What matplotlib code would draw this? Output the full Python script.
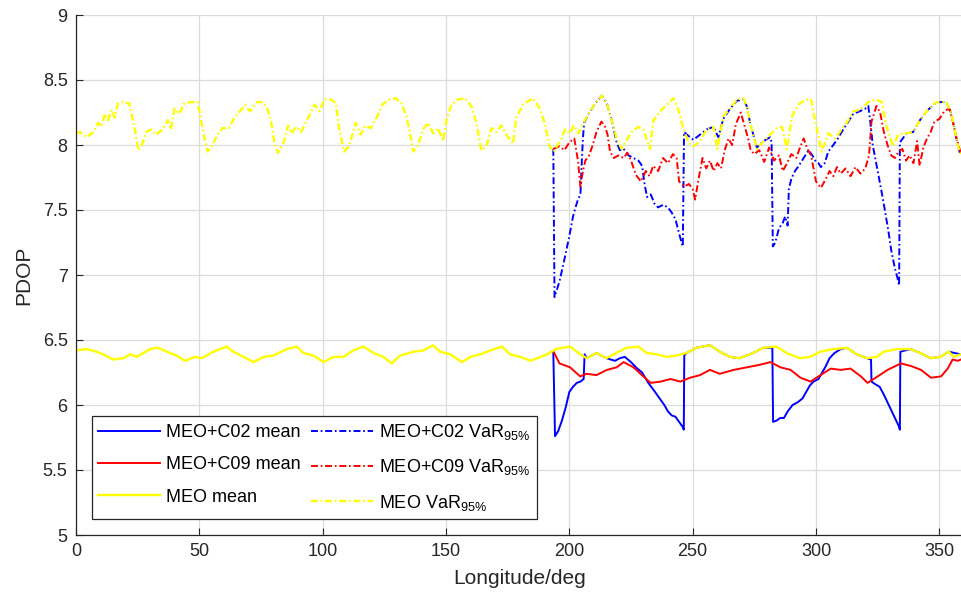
import matplotlib
matplotlib.use("Agg")
import matplotlib.pyplot as plt
import numpy as np

### values
# MEO only, VaR 95%
meo_var_lon = [0, 1.6, 4.3, 7, 9, 10.3, 11.7, 13, 14.4, 15.7, 17, 19, 21.6, 22.5, 23.9, 25.2,
               26.5, 28.5, 30.5, 32.5, 35.2, 37.2, 38.5, 39.9, 41.9, 43.9, 46.6, 49.3, 50.7, 52, 53.4,
               55.4, 57.4, 59.4, 62, 64.5, 66.5, 68.5, 70.5, 73.3, 75.7, 77.8, 79.2, 80.5, 81.9,
               83.9, 86, 87.3, 89.3, 91.3, 93.3, 94.7, 96.7, 98.7, 100.7, 103.4, 105.4, 106.7, 108.7,
               110.7, 113.4, 115.4, 117.4, 119.5, 122.1, 124.2, 126.9, 129.5, 132, 134, 135.4, 136.7,
               138.7, 140.7, 142.8, 144.8, 146.8, 148.8, 150.2, 152.2, 154.9, 157.6, 160.3, 162.3, 164.3,
               166.4, 168.4, 170.4, 172.5, 174.5, 177.2, 178.5, 181.2, 185.3, 188, 190, 192, 193.6,
               196.3, 198.3, 200.3, 201.7, 203.7, 205.7, 207.8, 210.5, 213.2, 215.2, 217.2, 219.2, 221.2,
               223.3, 225.3, 228, 230, 232.7, 234.1, 236.8, 239.5, 242.2, 244.2, 246.3, 248.3,
               250.3, 253, 255.7, 258.4, 260, 260.8, 262.4, 265.2, 267.9, 270.6, 271.9, 273.3, 276,
               278.7, 281.4, 284.1, 286.2, 288.2, 290.2, 292.9, 295.6, 298, 299.6, 302.3,
               305, 307.7, 310.4, 313.1, 315.1, 317.8, 321.2, 324.6, 326.6, 328.6, 331.3,
               333.3, 336.7, 339.4, 342.1, 345.4, 348.8, 352.9, 354.9, 356.9, 358.3, 360]
meo_var = [8.09, 8.10, 8.06, 8.10, 8.17, 8.14, 8.24, 8.19, 8.27, 8.21, 8.32, 8.33, 8.32, 8.24, 8.12, 7.96,
           7.99, 8.10, 8.12, 8.08, 8.12, 8.19, 8.12, 8.28, 8.24, 8.32, 8.33, 8.33, 8.19, 8.06, 7.95,
           8.00, 8.08, 8.13, 8.13, 8.22, 8.26, 8.31, 8.26, 8.33, 8.33, 8.27, 8.17, 8.01, 7.94,
           8.00, 8.15, 8.09, 8.14, 8.10, 8.18, 8.23, 8.31, 8.26, 8.35, 8.35, 8.32, 8.12, 7.95,
           7.99, 8.17, 8.08, 8.15, 8.13, 8.22, 8.31, 8.35, 8.36, 8.32, 8.22, 8.09, 7.95,
           8.00, 8.12, 8.17, 8.09, 8.13, 8.03, 8.19, 8.31, 8.35, 8.36, 8.30, 8.17, 7.96,
           7.99, 8.13, 8.10, 8.15, 8.08, 8.01, 8.21, 8.31, 8.36, 8.28, 8.17, 7.99, 7.95,
           8.03, 8.12, 8.09, 8.15, 8.09, 8.17, 8.24, 8.32, 8.38, 8.32, 8.19, 8.05, 7.97,
           8.04, 8.10, 8.14, 8.12, 7.97, 8.19, 8.26, 8.31, 8.36, 8.27, 8.12, 8.02,
           7.99, 8.03, 8.12, 8.14, 7.97, 8.05, 8.22, 8.28, 8.35, 8.36, 8.30, 8.17, 7.97,
           8.03, 8.08, 8.13, 8.14, 7.97, 8.22, 8.31, 8.35, 8.35, 8.19, 7.95,
           8.09, 8.05, 8.12, 8.19, 8.26, 8.27, 8.33, 8.35, 8.33, 8.14, 7.99,
           8.08, 8.09, 8.10, 8.19, 8.27, 8.33, 8.33, 8.24, 8.05, 7.94, 7.93]

# MEO only, mean
meo_mean_lon = [0, 4.3, 8.3, 11, 15, 19.2, 22, 24.6, 30, 33.4, 36.8, 40.8, 44.2, 48.2, 51, 55.7,
                61, 63.8, 67.9, 72, 76, 80, 85.5, 89.5, 92.2, 96.3, 100.3, 104.4, 108.4, 112.5,
                116.5, 120.6, 124.6, 128, 131.4, 136.8, 140.9, 144.7, 147.6, 151.7, 156.5, 159.9,
                164, 168, 172.7, 176, 180.2, 184.3, 188.3, 191, 194.4, 200.3, 203.7, 207, 211,
                215, 219, 223.2, 228, 231.3, 235.4, 239.4, 243.5, 247.5, 251.5, 257, 261, 265,
                269, 274.5, 278.5, 284, 288, 293.5, 297.6, 301.7, 307, 312.5, 316.5, 320.6,
                324.7, 327.4, 332.8, 338.3, 342.3, 346.4, 350.4, 353.8, 355.9, 358.6, 360]
meo_mean = [6.42, 6.43, 6.41, 6.39, 6.35, 6.36, 6.39, 6.37, 6.43, 6.44, 6.41, 6.38, 6.34, 6.37, 6.36, 6.41,
            6.45, 6.41, 6.37, 6.33, 6.37, 6.38, 6.43, 6.45, 6.40, 6.38, 6.33, 6.37, 6.37, 6.42,
            6.45, 6.40, 6.37, 6.32, 6.38, 6.41, 6.42, 6.46, 6.41, 6.39, 6.33, 6.37,
            6.39, 6.42, 6.45, 6.39, 6.37, 6.34, 6.37, 6.39, 6.43, 6.45, 6.40, 6.36, 6.40,
            6.36, 6.40, 6.44, 6.45, 6.40, 6.39, 6.37, 6.38, 6.40, 6.44, 6.46, 6.41, 6.37,
            6.36, 6.40, 6.44, 6.45, 6.40, 6.36, 6.37, 6.41, 6.43, 6.44, 6.39, 6.36,
            6.37, 6.41, 6.43, 6.43, 6.40, 6.36, 6.37, 6.41, 6.37, 6.39, 6.39]

# MEO+C09, VaR 95%
c09_var_lon = [193.5, 196, 198, 200, 202, 203.5, 204.5, 205.5, 206.5, 208, 209.5, 211, 213, 214.5,
               215.5, 216.5, 218, 220, 222, 223.5, 225, 227, 229, 231, 232.5, 234, 236, 238, 240,
               242, 243.5, 244.5, 246.5, 248.5, 250, 251, 252.5, 254, 255.5, 257, 258.5, 260,
               261.5, 263, 264.5, 266, 267.5, 269.5, 271, 272.5, 273.5, 275, 277, 279, 281, 283,
               285, 286.5, 288, 290, 292, 293.5, 295, 296.5, 298, 300, 302, 304, 305.5, 307,
               308.5, 310, 312, 314, 316, 318, 320, 321.5, 322.5, 324.5, 326, 327.5, 329, 330.5,
               332, 333.5, 335, 336.5, 338, 339.5, 341, 342, 343.5, 345, 346.5, 348, 350, 352,
               354, 355.5, 357, 358.5, 360]
c09_var = [7.97, 7.99, 7.96, 8.02, 8.05, 7.88, 7.68, 7.80, 7.88, 7.92, 8.00, 8.10, 8.18, 8.14,
           8.08, 7.95, 7.90, 7.92, 7.90, 7.94, 7.88, 7.77, 7.72, 7.80, 7.76, 7.84, 7.80, 7.90, 7.86,
           7.93, 7.90, 7.72, 7.68, 7.70, 7.66, 7.58, 7.75, 7.90, 7.82, 7.88, 7.80, 7.86,
           7.82, 7.96, 8.05, 8.00, 8.16, 8.25, 8.15, 8.05, 7.96, 7.93, 7.96, 7.87, 7.98, 7.88,
           7.92, 7.80, 7.85, 7.93, 7.90, 7.98, 8.05, 7.97, 7.92, 7.72, 7.67, 7.74, 7.80, 7.76,
           7.83, 7.78, 7.82, 7.76, 7.83, 7.78, 7.82, 7.92, 8.18, 8.30, 8.25, 8.10, 8.00, 7.92,
           7.90, 7.95, 7.97, 7.88, 7.92, 7.86, 8.03, 7.84, 7.98, 8.05, 8.10, 8.18, 8.20, 8.26,
           8.28, 8.18, 8.05, 7.95, 7.93]

# MEO+C09, mean
c09_mean_lon = [193.6, 196, 200.3, 204.4, 207, 211, 215.2, 219.2, 222, 226, 230, 233, 237, 241,
                245, 249, 253, 257, 261, 266.6, 272, 277.4, 281.5, 285.6, 289.7, 293.7, 297.8,
                301.8, 306, 310, 314, 318.2, 320.9, 325, 329, 334.4, 338.5, 342.6, 346.6, 350.7,
                353.4, 355.4, 357.5, 360]
c09_mean = [6.41, 6.32, 6.29, 6.22, 6.24, 6.23, 6.27, 6.29, 6.33, 6.29, 6.22, 6.17, 6.18, 6.20,
            6.18, 6.21, 6.23, 6.27, 6.24, 6.27, 6.29, 6.31, 6.33, 6.29, 6.27, 6.21, 6.18,
            6.23, 6.28, 6.27, 6.28, 6.22, 6.17, 6.22, 6.27, 6.32, 6.30, 6.27, 6.21, 6.22,
            6.28, 6.35, 6.34, 6.36]

# MEO+C02, VaR 95%
c02_var_lon = [193.5, 194, 196, 198, 200, 201.5, 202.5, 203.5, 204.5, 205, 205.5, 206, 207.8, 210.5,
               213.2, 215.2, 217.2, 219.2, 220.5, 222, 224, 226, 228, 229.5, 230.5, 231.5, 233,
               234.5, 236, 238, 240, 241.5, 243, 244.5, 245.5, 246, 246.5, 247.6, 250.3, 253,
               255.7, 258.4, 260.4, 262.4, 265.2, 267.9, 270.6, 271.9, 273.3, 276, 278.7, 281.4,
               282, 282.5, 283.5, 285, 286.5, 287.5, 288.5, 289, 290, 291.5, 293, 295, 297,
               298.5, 300, 301, 302, 303.5, 305, 307, 308.5, 310.4, 313.1, 315.1, 317.8, 320,
               321.2, 322, 323, 325, 326.5, 328, 329.5, 330.5, 332, 333, 333.7, 334, 336.7,
               339.4, 342.1, 345.4, 348.8, 352.9, 354.9, 356.9, 358.3]
c02_var = [7.97, 6.83, 6.95, 7.12, 7.30, 7.45, 7.52, 7.58, 7.62, 7.85, 8.05, 8.17, 8.24, 8.32,
           8.38, 8.32, 8.19, 8.02, 7.96, 7.97, 7.92, 7.90, 7.88, 7.84, 7.70, 7.60, 7.62,
           7.55, 7.52, 7.54, 7.52, 7.48, 7.43, 7.32, 7.25, 7.22, 8.10, 8.08, 8.04, 8.08,
           8.12, 8.14, 8.06, 8.20, 8.28, 8.34, 8.35, 8.30, 8.17, 7.98, 8.03, 8.06,
           8.02, 7.22, 7.25, 7.36, 7.40, 7.45, 7.38, 7.66, 7.74, 7.80, 7.84, 7.90, 7.96,
           7.92, 7.87, 7.86, 7.83, 7.86, 7.95, 8.00, 8.04, 8.10, 8.18, 8.24, 8.26, 8.28,
           8.30, 8.18, 8.00, 7.80, 7.65, 7.49, 7.32, 7.19, 7.05, 6.98, 6.92, 8.02, 8.09,
           8.10, 8.19, 8.27, 8.33, 8.33, 8.24, 8.05, 7.94]

# MEO+C02, mean
c02_mean_lon = [193.5, 194.2, 195.5, 197, 198.5, 200, 201.5, 203, 204.5, 205.8, 206.2, 207, 211, 215,
                218.5, 220.5, 222.5, 225, 227, 229.5, 232, 234, 235.5, 237, 238.5, 240, 241.5, 243,
                244.5, 246, 246.4, 246.6, 247.5, 251.5, 257, 261, 265, 269, 274.5, 278.5, 282.3,
                282.6, 284, 285.5, 287, 288.5, 290.5, 292.5, 294.5, 296, 297.5, 299, 301, 302.5,
                304, 305.5, 307.5, 310, 312.5, 316.5, 320.6, 322.3, 322.5, 324, 325.8, 327.5, 329,
                330.5, 332, 333.5, 334, 334.2, 338.3, 342.3, 346.4, 350.4, 353.8, 358.6]
c02_mean = [6.41, 5.76, 5.80, 5.88, 5.98, 6.10, 6.14, 6.17, 6.18, 6.20, 6.39, 6.36, 6.40, 6.36,
            6.34, 6.36, 6.37, 6.33, 6.29, 6.25, 6.17, 6.12, 6.08, 6.04, 6.00, 5.95, 5.92, 5.91,
            5.87, 5.83, 5.81, 6.38, 6.40, 6.44, 6.46, 6.41, 6.37, 6.36, 6.40, 6.44, 6.44,
            5.87, 5.88, 5.90, 5.90, 5.95, 6.00, 6.02, 6.05, 6.10, 6.15, 6.18, 6.20, 6.25,
            6.30, 6.36, 6.40, 6.43, 6.44, 6.39, 6.36, 6.35, 6.18, 6.16, 6.14, 6.08, 6.02,
            5.96, 5.90, 5.84, 5.81, 6.41, 6.43, 6.40, 6.36, 6.37, 6.41, 6.39]

### style
plt.rcParams["font.family"] = ["Liberation Sans", "DejaVu Sans"]
plt.rcParams["mathtext.fontset"] = "custom"
plt.rcParams["mathtext.rm"] = "Liberation Sans"
plt.rcParams["mathtext.it"] = "Liberation Sans:italic"
plt.rcParams["lines.scale_dashes"] = False

dashdot = (0, (5, 2, 1.2, 2))
lw = 1.4

fig = plt.figure(figsize=(9.62, 6.02), dpi=100)
ax = fig.add_axes([76 / 962, 67 / 602, 888 / 962, 520 / 602])

h_c02m, = ax.plot(c02_mean_lon, c02_mean, color="#0000ff", lw=lw)
h_c02v, = ax.plot(c02_var_lon, c02_var, color="#0000ff", lw=lw, ls=dashdot)
h_c09m, = ax.plot(c09_mean_lon, c09_mean, color="#ff0000", lw=lw)
h_c09v, = ax.plot(c09_var_lon, c09_var, color="#ff0000", lw=lw, ls=dashdot)
h_meom, = ax.plot(meo_mean_lon, meo_mean, color="#ffff00", lw=lw + 0.3)
h_meov, = ax.plot(meo_var_lon, meo_var, color="#ffff00", lw=lw + 0.3, ls=dashdot)

ax.set_xlim(0, 360)
ax.set_ylim(5, 9)
ax.set_xticks(np.arange(0, 351, 50))
ax.set_yticks(np.arange(5, 9.01, 0.5))
ax.set_yticklabels(["%g" % v for v in np.arange(5, 9.01, 0.5)])
ax.tick_params(direction="in", length=5, width=0.8, labelsize=13, colors="#262626", pad=6)
ax.grid(True, color="#dcdcdc", lw=0.9)
ax.set_axisbelow(True)
for side in ["top", "right"]:
    ax.spines[side].set_visible(False)
for side in ["left", "bottom"]:
    ax.spines[side].set_color("#262626")
    ax.spines[side].set_linewidth(0.9)

ax.set_xlabel("Longitude/deg", fontsize=15, color="#262626", labelpad=6)
ax.set_ylabel("PDOP", fontsize=15, color="#262626", labelpad=7)

handles = [h_c02m, h_c09m, h_meom, h_c02v, h_c09v, h_meov]
labels = ["MEO+C02 mean", "MEO+C09 mean", "MEO mean",
          r"MEO+C02 VaR$_{\mathrm{95\%}}$", r"MEO+C09 VaR$_{\mathrm{95\%}}$", r"MEO VaR$_{\mathrm{95\%}}$"]
leg = ax.legend(handles, labels, ncol=2, loc="lower left", bbox_to_anchor=(0.018, 0.031),
                borderaxespad=0, fontsize=13, frameon=True, fancybox=False, framealpha=1,
                edgecolor="#262626", handlelength=3.4, handletextpad=0.35, columnspacing=0.6,
                labelspacing=0.85, borderpad=0.35)
leg.get_frame().set_linewidth(0.9)

fig.savefig("out.png", dpi=100)
